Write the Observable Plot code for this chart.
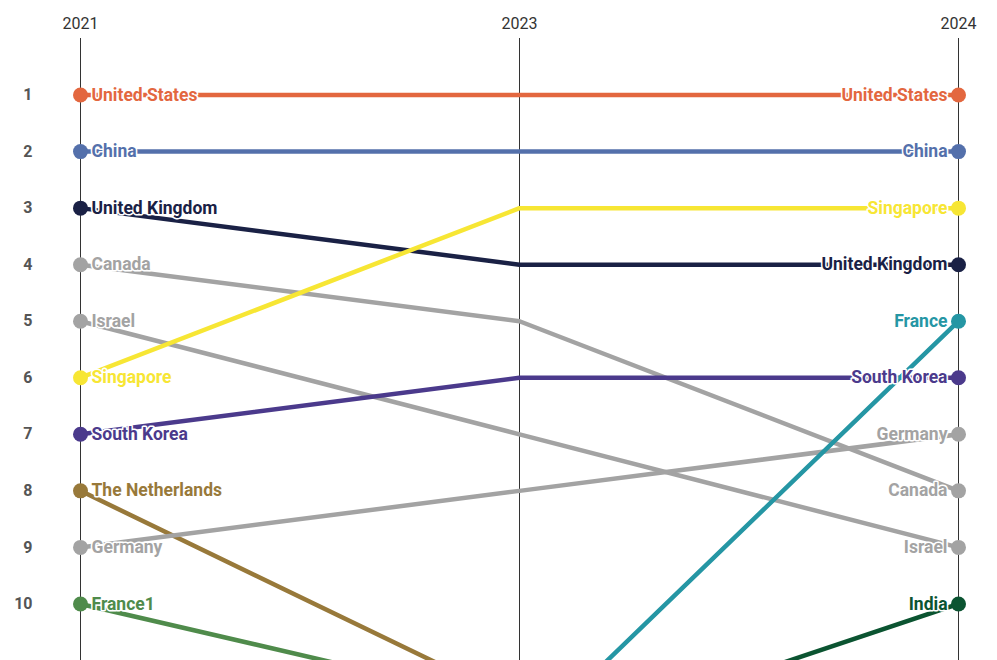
<!DOCTYPE html>
<html>
<head>
<meta charset="utf-8">
<script src="https://cdn.jsdelivr.net/npm/d3@7"></script>
<script src="https://cdn.jsdelivr.net/npm/@observablehq/plot@0.6"></script>
<style>
  html, body { margin: 0; padding: 0; background: #fff; overflow: hidden; }
  #chart svg { display: block; }
</style>
</head>
<body>
<div id="chart"></div>
<script>
const years = ["2021", "2023", "2024"];
const countries = ["United States", "China", "United Kingdom", "Canada", "Israel", "Singapore", "South Korea", "The Netherlands", "Germany", "France1", "France", "India"];
const rank2021 = [1, 2, 3, 4, 5, 6, 7, 8, 9, 10, null, null];
const rank2023 = [1, 2, 4, 5, 7, 3, 6, 11.75, 8, 11.8, 12.5, 12.6];
const rank2024 = [1, 2, 4, 8, 9, 3, 6, null, 7, null, 5, 10];
const colors = ["#e3673f", "#5470ab", "#1a2145", "#a3a3a3", "#a3a3a3", "#f7e634", "#4b3a8c", "#98793a", "#a3a3a3", "#4f8b4b", "#2596a4", "#0b5431"];
const rankTicks = [1, 2, 3, 4, 5, 6, 7, 8, 9, 10];

const series = [rank2021, rank2023, rank2024];
const data = [];
countries.forEach((c, i) => {
  years.forEach((y, j) => {
    const r = series[j][i];
    if (r != null) data.push({country: c, year: y, rank: r, color: colors[i]});
  });
});
const first = data.filter(d => d.year === "2021");
const last = data.filter(d => d.year === "2024");

const chart = Plot.plot({
  width: 997,
  height: 660,
  marginTop: 38,
  marginBottom: 0,
  marginLeft: 80,
  marginRight: 39,
  style: {fontFamily: "Roboto, sans-serif", background: "#fff"},
  x: {type: "point", domain: years, padding: 0, axis: null},
  y: {domain: [0, 11], reverse: true, axis: null, label: null},
  color: {type: "identity"},
  marks: [
    Plot.ruleX(years, {x: d => d, stroke: "#333", strokeWidth: 1}),
    Plot.text(years, {x: d => d, frameAnchor: "top", dy: -21, text: d => d, fontSize: 16, fill: "#333"}),
    Plot.axisY({ticks: rankTicks, tickSize: 0, tickPadding: 48, fontSize: 16, fontWeight: "bold", fill: "#555", tickFormat: d => d, label: null}),
    Plot.line(data, {x: "year", y: "rank", z: "country", stroke: "color", strokeWidth: 4.5, clip: true}),
    Plot.dot(data.filter(d => d.year !== "2023"), {x: "year", y: "rank", fill: "color", r: 7.5}),
    Plot.text(first, {x: "year", y: "rank", text: "country", fill: "color", textAnchor: "start", dx: 11, fontSize: 17.5, fontWeight: "bold", stroke: "white", strokeWidth: 3}),
    Plot.text(last, {x: "year", y: "rank", text: "country", fill: "color", textAnchor: "end", dx: -11, fontSize: 17.5, fontWeight: "bold", stroke: "white", strokeWidth: 3})
  ]
});
document.getElementById("chart").append(chart);
</script>
</body>
</html>
